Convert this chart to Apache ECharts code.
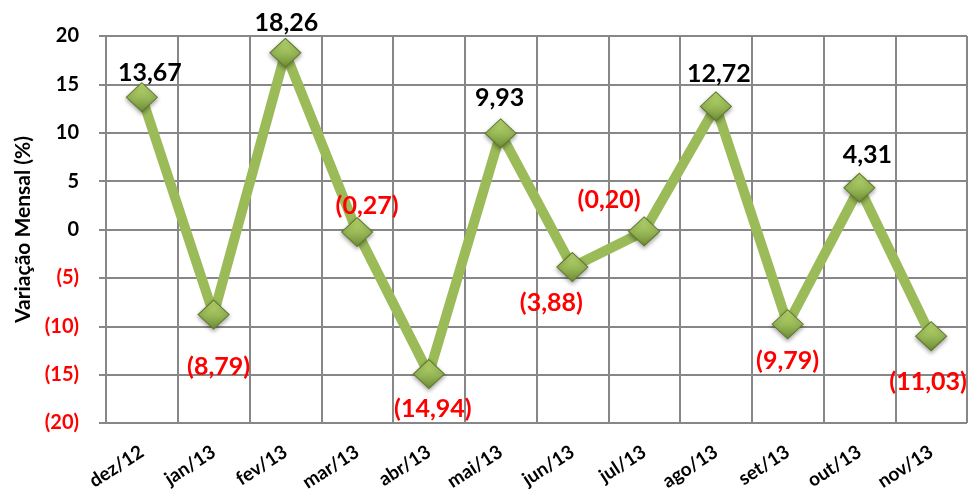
<!DOCTYPE html>
<html>
<head>
<meta charset="utf-8">
<script src="https://cdn.jsdelivr.net/npm/echarts@6/dist/echarts.min.js"></script>
<style>html,body{margin:0;padding:0;background:#fff}#c{width:973px;height:489px}</style>
</head>
<body>
<div id="c"></div>
<script>
const categories = ['dez/12','jan/13','fev/13','mar/13','abr/13','mai/13','jun/13','jul/13','ago/13','set/13','out/13','nov/13'];
const values = [13.67, -8.79, 18.26, -0.27, -14.94, 9.93, -3.88, -0.20, 12.72, -9.79, 4.31, -11.03];
const yAxisTitle = 'Variação Mensal (%)';

// label layout (pixel offsets from each marker centre)
const labelOffsets = [[8,-24],[5,52],[1,-30],[10,-26],[4,35],[-1,-35],[-21,36],[-35,-31],[3,-32],[0,37],[8,-33],[-3,46]];

const fmt = v => {
  const s = Math.abs(v).toFixed(2).replace('.', ',');
  return v < 0 ? '(' + s + ')' : s;
};
const FONT = 'Lato';

const data = values.map((v, i) => ({
  value: v,
  label: { offset: labelOffsets[i], color: v < 0 ? '#FF0000' : '#000000' }
}));

const chart = echarts.init(document.getElementById('c'), null, { renderer: 'canvas' });
chart.setOption({
  animation: false,
  backgroundColor: '#ffffff',
  grid: { left: 106, right: 6, top: 36, bottom: 66, containLabel: false, outerBoundsMode: 'none' },
  xAxis: {
    type: 'category',
    data: categories,
    boundaryGap: true,
    axisLine: { lineStyle: { color: '#878787', width: 2 } },
    axisTick: { show: false },
    splitLine: { show: true, lineStyle: { color: '#878787', width: 2 } },
    axisLabel: {
      rotate: 33, margin: 27, interval: 0,
      fontFamily: FONT, fontWeight: 'bold', fontSize: 19, color: '#000'
    }
  },
  yAxis: {
    type: 'value',
    min: -20, max: 20, interval: 5,
    name: yAxisTitle,
    nameLocation: 'middle',
    nameGap: 72,
    nameRotate: 90,
    nameTextStyle: { fontFamily: FONT, fontWeight: 'bold', fontSize: 21, color: '#000' },
    axisLine: { show: true, lineStyle: { color: '#878787', width: 2 } },
    axisTick: { show: true, length: 7, lineStyle: { color: '#878787', width: 2 } },
    splitLine: { show: true, lineStyle: { color: '#878787', width: 2 } },
    axisLabel: {
      margin: 27,
      fontFamily: FONT, fontWeight: 'bold', fontSize: 20,
      formatter: v => v < 0 ? '(' + (-v) + ')' : String(v),
      color: v => (Number(v) < 0 ? '#FF0000' : '#000000')
    }
  },
  series: [{
    type: 'line',
    data: data,
    symbol: 'diamond',
    symbolSize: [31, 29],
    z: 3,
    lineStyle: { color: '#9BBB59', width: 10 },
    itemStyle: {
      color: new echarts.graphic.LinearGradient(0, 0, 0, 1, [
        { offset: 0, color: '#bedd72' },
        { offset: 0.5, color: '#9bbb59' },
        { offset: 1, color: '#6f8c35' }
      ]),
      borderColor: '#5f7a2c',
      borderWidth: 1,
      shadowColor: 'rgba(0,0,0,0.35)',
      shadowBlur: 4,
      shadowOffsetY: 2
    },
    label: {
      show: true,
      position: 'inside',
      align: 'center',
      verticalAlign: 'middle',
      fontFamily: FONT, fontWeight: 'bold', fontSize: 25,
      formatter: p => fmt(p.value)
    },
    emphasis: { disabled: true }
  }]
});
</script>
</body>
</html>
